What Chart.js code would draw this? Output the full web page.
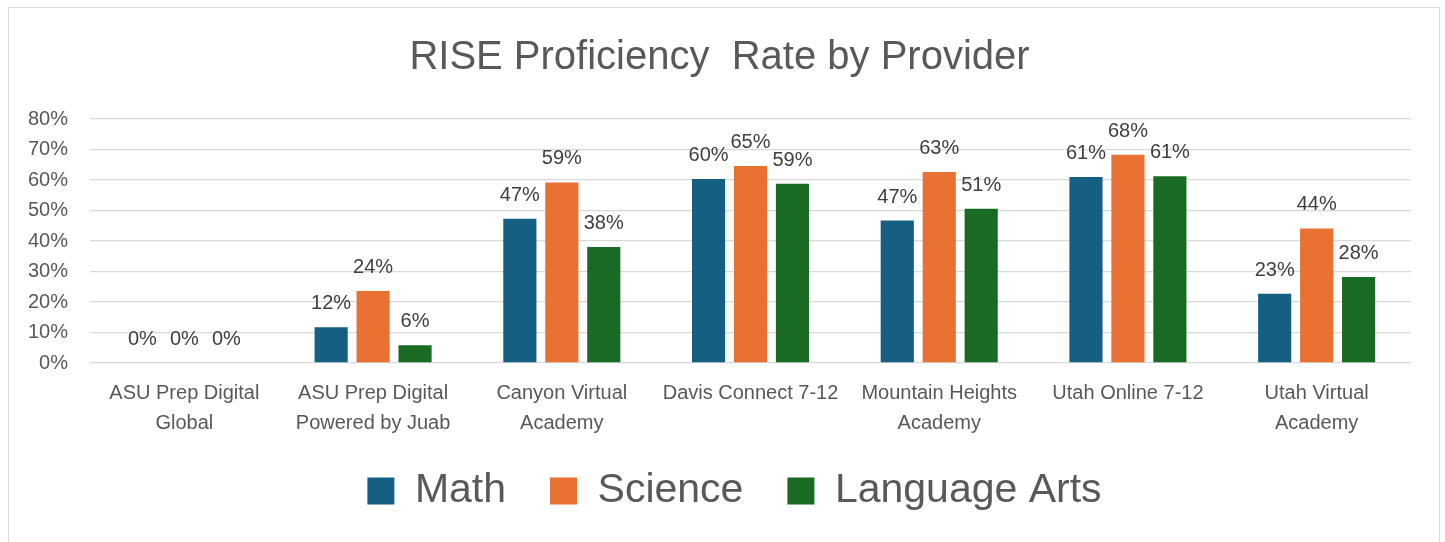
<!DOCTYPE html>
<html>
<head>
<meta charset="utf-8">
<script src="https://cdn.jsdelivr.net/npm/chart.js@4/dist/chart.umd.min.js"></script>
<style>
  html, body { margin: 0; padding: 0; background: #ffffff; }
  #wrap { position: relative; width: 1445px; height: 542px; }
</style>
</head>
<body>
<div id="wrap"><canvas id="c" width="1445" height="542"></canvas></div>
<script>
const categories = [
  ["ASU Prep Digital", "Global"],
  ["ASU Prep Digital", "Powered by Juab"],
  ["Canyon Virtual", "Academy"],
  ["Davis Connect 7-12"],
  ["Mountain Heights", "Academy"],
  ["Utah Online 7-12"],
  ["Utah Virtual", "Academy"]
];
const seriesNames = ["Math", "Science", "Language Arts"];
const mathValues = [0, 11.7, 47.3, 60.3, 46.7, 61.0, 22.7];
const scienceValues = [0, 23.6, 59.2, 64.6, 62.6, 68.3, 44.1];
const languageArtsValues = [0, 5.8, 38.0, 58.8, 50.6, 61.2, 28.2];
const yTicks = [0, 10, 20, 30, 40, 50, 60, 70, 80];

const FONT = "'Liberation Sans', Arial, sans-serif";

const borderPlugin = {
  id: 'outerBorder',
  beforeDraw(chart) {
    const ctx = chart.ctx;
    ctx.save();
    ctx.fillStyle = '#ffffff';
    ctx.fillRect(0, 0, chart.width, chart.height);
    ctx.strokeStyle = '#d9d9d9';
    ctx.lineWidth = 1;
    ctx.strokeRect(8.5, 7.5, 1431, 600);
    ctx.restore();
  }
};

const legendShiftPlugin = {
  id: 'legendShift',
  afterLayout(chart) {
    const lg = chart.legend;
    if (!lg) return;
    lg.top -= 11.5; lg.bottom -= 11.5;
    lg.left += 15; lg.right += 15;
  }
};

const labelPlugin = {
  id: 'barLabels',
  afterDatasetsDraw(chart) {
    const ctx = chart.ctx;
    ctx.save();
    ctx.font = "20px " + FONT;
    ctx.fillStyle = '#404040';
    ctx.textAlign = 'center';
    ctx.textBaseline = 'alphabetic';
    chart.data.datasets.forEach((ds, di) => {
      const meta = chart.getDatasetMeta(di);
      meta.data.forEach((bar, i) => {
        const v = ds.data[i];
        ctx.fillText(Math.round(v) + '%', bar.x, bar.y - 18);
      });
    });
    ctx.restore();
  }
};

new Chart(document.getElementById('c'), {
  type: 'bar',
  data: {
    labels: categories,
    datasets: [
      { label: seriesNames[0], data: mathValues, backgroundColor: '#156082' },
      { label: seriesNames[1], data: scienceValues, backgroundColor: '#E97132' },
      { label: seriesNames[2], data: languageArtsValues, backgroundColor: '#196B24' }
    ]
  },
  options: {
    responsive: false,
    animation: false,
    layout: { padding: { left: 28, right: 34, top: 10, bottom: 9 } },
    datasets: { bar: { categoryPercentage: 0.667, barPercentage: 0.79 } },
    plugins: {
      title: {
        display: true,
        text: 'RISE Proficiency  Rate by Provider',
        color: '#595959',
        font: { family: FONT, size: 40, weight: 'normal' },
        padding: { top: 24, bottom: 37 }
      },
      legend: {
        position: 'bottom',
        labels: {
          color: '#595959',
          font: { family: FONT, size: 41 },
          boxWidth: 27,
          boxHeight: 27,
          padding: 44
        }
      },
      tooltip: { enabled: false }
    },
    scales: {
      x: {
        grid: { display: false, drawTicks: false },
        border: { display: false },
        ticks: {
          color: '#595959',
          font: { family: FONT, size: 20, lineHeight: 1.5 },
          padding: 15,
          maxRotation: 0,
          autoSkip: false
        },
        afterFit(scale) { scale.paddingLeft = 0; scale.paddingRight = 0; scale.height = scale.height - 15; }
      },
      y: {
        min: 0,
        max: 80,
        afterBuildTicks(scale) { scale.ticks = yTicks.map(v => ({ value: v })); },
        grid: { color: '#d9d9d9', lineWidth: 1.3, drawTicks: false },
        border: { display: false },
        ticks: {
          color: '#595959',
          font: { family: FONT, size: 20 },
          padding: 22,
          callback: v => v + '%'
        },
        afterFit(scale) { scale.width = scale.width - 22; }
      }
    }
  },
  plugins: [borderPlugin, labelPlugin, legendShiftPlugin]
});
</script>
</body>
</html>
